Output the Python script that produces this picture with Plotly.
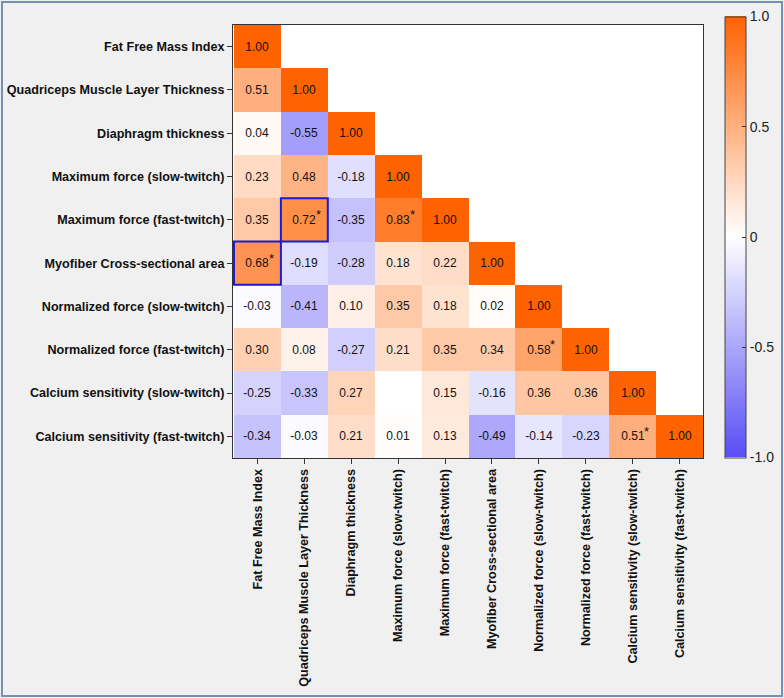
import plotly.graph_objects as go

labels = [
    "Fat Free Mass Index",
    "Quadriceps Muscle Layer Thickness",
    "Diaphragm thickness",
    "Maximum force (slow-twitch)",
    "Maximum force (fast-twitch)",
    "Myofiber Cross-sectional area",
    "Normalized force (slow-twitch)",
    "Normalized force (fast-twitch)",
    "Calcium sensitivity (slow-twitch)",
    "Calcium sensitivity (fast-twitch)",
]

# lower-triangular correlation values, row by row
row_ffmi = [1.00]
row_qmlt = [0.51, 1.00]
row_diaph = [0.04, -0.55, 1.00]
row_maxf_slow = [0.23, 0.48, -0.18, 1.00]
row_maxf_fast = [0.35, 0.72, -0.35, 0.83, 1.00]
row_myofiber = [0.68, -0.19, -0.28, 0.18, 0.22, 1.00]
row_norm_slow = [-0.03, -0.41, 0.10, 0.35, 0.18, 0.02, 1.00]
row_norm_fast = [0.30, 0.08, -0.27, 0.21, 0.35, 0.34, 0.58, 1.00]
row_ca_slow = [-0.25, -0.33, 0.27, 0.00, 0.15, -0.16, 0.36, 0.36, 1.00]
row_ca_fast = [-0.34, -0.03, 0.21, 0.01, 0.13, -0.49, -0.14, -0.23, 0.51, 1.00]
rows = [row_ffmi, row_qmlt, row_diaph, row_maxf_slow, row_maxf_fast,
        row_myofiber, row_norm_slow, row_norm_fast, row_ca_slow, row_ca_fast]

# cells with a blank label (row index, column index)
blank_cells = [(8, 3)]
# significant cells marked with an asterisk (row, col)
star_cells = [(4, 1), (4, 3), (5, 0), (7, 6), (9, 8)]
# cells outlined in blue (row, col)
boxed_cells = [(4, 1), (5, 0)]

n = len(labels)
z = []
text = []
for i, r in enumerate(rows):
    zr, tr = [], []
    for j in range(n):
        if j < len(r):
            zr.append(r[j])
            tr.append("" if (i, j) in blank_cells else f"{r[j]:.2f}")
        else:
            zr.append(None)
            tr.append("")
    z.append(zr)
    text.append(tr)

colorscale = [[0.0, "rgb(88,78,245)"], [0.5, "rgb(255,255,255)"], [1.0, "rgb(255,98,0)"]]

FONT = "Liberation Sans, Arial"
L, R, T, B = 233, 703, 25, 458
PW, PH = R - L, B - T

fig = go.Figure(go.Heatmap(
    z=z, x=labels, y=labels, text=text, texttemplate="%{text}",
    textfont=dict(family=FONT, size=12, color="#111"),
    colorscale=colorscale, zmin=-1, zmax=1, hoverinfo="skip",
    colorbar=dict(
        x=(725 - L) / PW, xanchor="left", xref="paper", xpad=0, ypad=0,
        y=(B - 237) / PH, yanchor="middle",
        len=441, lenmode="pixels", thickness=21, thicknessmode="pixels",
        outlinecolor="#444", outlinewidth=1,
        tickvals=[-1, -0.5, 0, 0.5, 1], ticktext=["-1.0", "-0.5", "0", "0.5", "1.0"],
        ticks="inside", ticklen=4, tickcolor="#333",
        tickfont=dict(family=FONT, size=14, color="#222"),
    ),
))

shapes = []
for (i, j) in boxed_cells:
    shapes.append(dict(type="rect", xref="x", yref="y",
                       x0=j - 0.5, x1=j + 0.5, y0=i - 0.5, y1=i + 0.5,
                       line=dict(color="#1a1ad8", width=2)))
# outer frame
shapes.append(dict(type="rect", xref="paper", yref="paper",
                   x0=(2 - L) / PW, x1=(782 - L) / PW,
                   y0=(B - 696) / PH, y1=(B - 2) / PH,
                   line=dict(color="#7391b2", width=2), layer="below"))

annotations = []
for (i, j) in star_cells:
    annotations.append(dict(x=labels[j], y=labels[i], xref="x", yref="y",
                            text="*", showarrow=False, xshift=14, yshift=5,
                            font=dict(family=FONT, size=13, color="#111")))

fig.update_layout(
    width=784, height=698,
    margin=dict(l=L, r=784 - R, t=T, b=698 - B, autoexpand=False),
    paper_bgcolor="#f0f0f0", plot_bgcolor="white",
    font=dict(family=FONT, color="#111"),
    shapes=shapes, annotations=annotations,
    xaxis=dict(showgrid=False, zeroline=False, showline=True, mirror=True,
               linecolor="#333", linewidth=1, ticks="outside", ticklen=5,
               tickcolor="#333", tickangle=-90, automargin=False,
               tickfont=dict(family=FONT, size=12.6, color="#111", weight="bold")),
    yaxis=dict(showgrid=False, zeroline=False, showline=True, mirror=True,
               linecolor="#333", linewidth=1, ticks="outside", ticklen=5,
               tickcolor="#333", autorange="reversed", automargin=False,
               tickfont=dict(family=FONT, size=12.6, color="#111", weight="bold")),
)

fig.write_html("out.html")
